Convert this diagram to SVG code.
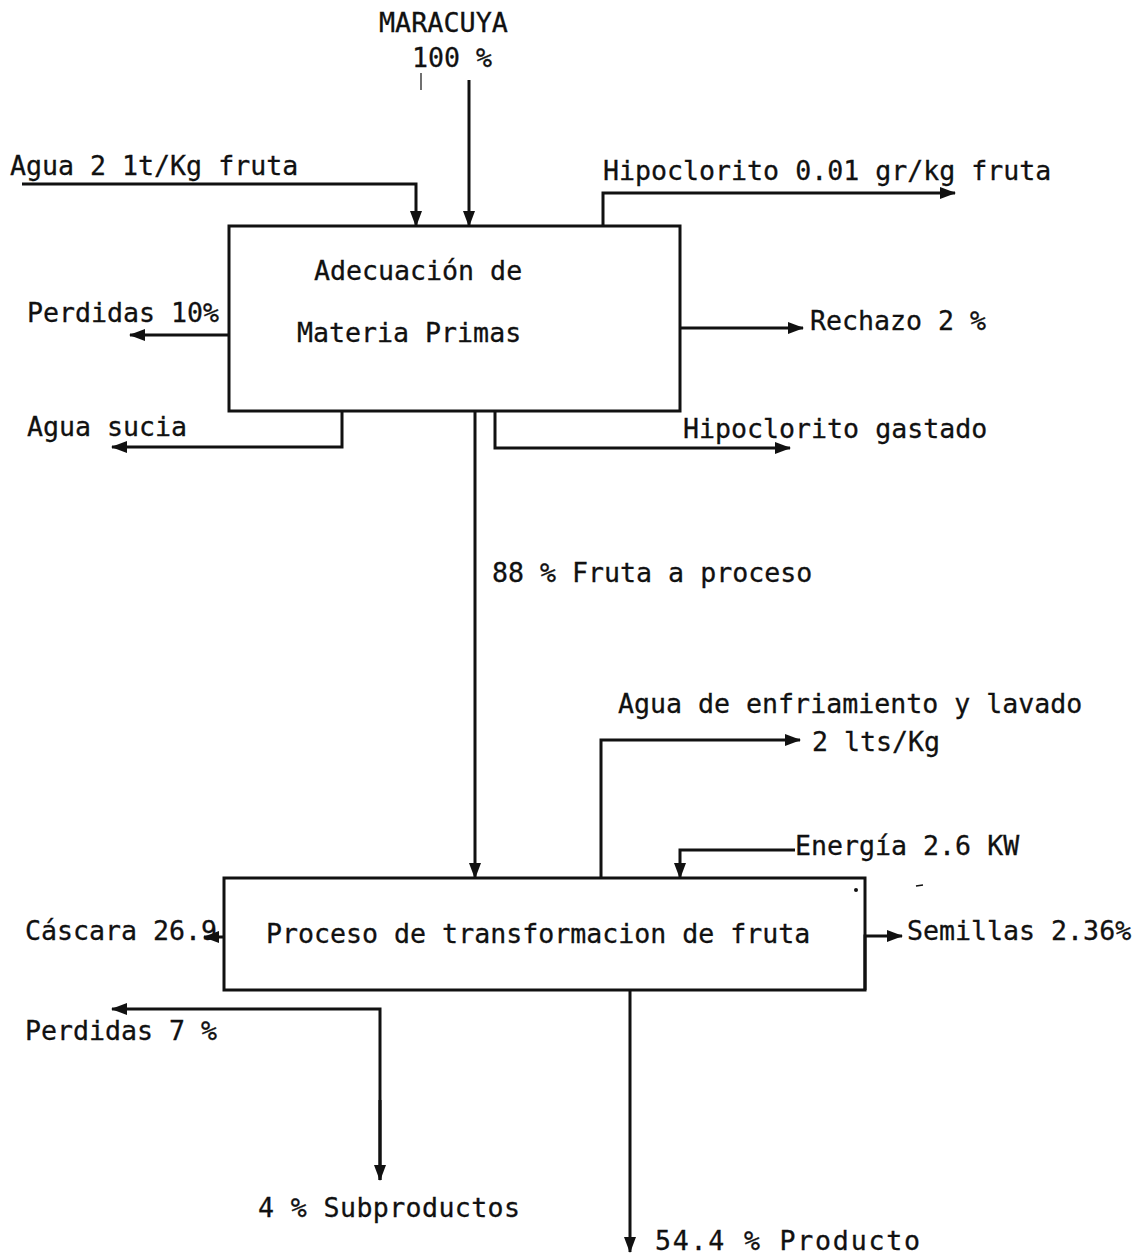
<svg xmlns="http://www.w3.org/2000/svg" width="1138" height="1256" viewBox="0 0 1138 1256">
  <style>
    text { font-family: "DejaVu Sans Mono", "Liberation Mono", monospace; font-size: 26.6px; fill: #111; stroke: #111; stroke-width: 0.3; }
    .box { fill: none; stroke: #111; stroke-width: 3; }
    .flow { fill: none; stroke: #111; stroke-width: 3; stroke-linejoin: miter; }
  </style>
  <defs>
    <marker id="arrow" viewBox="0 0 16 12" refX="15" refY="6" markerWidth="16" markerHeight="12" markerUnits="userSpaceOnUse" orient="auto">
      <path d="M0,0 L16,6 L0,12 Z" fill="#111"/>
    </marker>
  </defs>
  <rect width="1138" height="1256" fill="#fff"/>

  <!-- Stage 1: raw material preparation -->
  <g id="adecuacion">
    <rect class="box" x="229" y="226" width="451" height="185"/>
    <text x="314" y="280">Adecuación de</text>
    <text x="297" y="342">Materia Primas</text>
  </g>

  <!-- Stage 2: fruit processing -->
  <g id="proceso">
    <rect class="box" x="224" y="878" width="641" height="112"/>
    <text x="266" y="943">Proceso de transformacion de fruta</text>
  </g>

  <!-- Stream labels -->
  <g id="labels">
    <text x="379" y="32" textLength="129" lengthAdjust="spacingAndGlyphs">MARACUYA</text>
    <text x="412" y="67">100 %</text>
    <text x="10" y="175">Agua 2 1t/Kg fruta</text>
    <text x="603" y="180">Hipoclorito 0.01 gr/kg fruta</text>
    <text x="27" y="322">Perdidas 10%</text>
    <text x="810" y="330">Rechazo 2 %</text>
    <text x="27" y="436">Agua sucia</text>
    <text x="683" y="438">Hipoclorito gastado</text>
    <text x="492" y="582">88 % Fruta a proceso</text>
    <text x="618" y="713">Agua de enfriamiento y lavado</text>
    <text x="812" y="751">2 lts/Kg</text>
    <text x="795" y="855">Energía 2.6 KW</text>
    <text x="25" y="940">Cáscara 26.9</text>
    <text x="907" y="940">Semillas 2.36%</text>
    <text x="25" y="1040">Perdidas 7 %</text>
    <text x="258" y="1217" textLength="262">4 % Subproductos</text>
    <text x="655" y="1250" textLength="265">54.4 % Producto</text>
  </g>

  <!-- Material and energy flows -->
  <g id="connectors">
    <line class="flow" x1="469" y1="80" x2="469" y2="226" marker-end="url(#arrow)"/>
    <polyline class="flow" points="22,184 416,184 416,226" marker-end="url(#arrow)"/>
    <polyline class="flow" points="603,226 603,193 955,193" marker-end="url(#arrow)"/>
    <line class="flow" x1="229" y1="335" x2="130" y2="335" marker-end="url(#arrow)"/>
    <line class="flow" x1="680" y1="328" x2="803" y2="328" marker-end="url(#arrow)"/>
    <polyline class="flow" points="342,411 342,447 112,447" marker-end="url(#arrow)"/>
    <polyline class="flow" points="495,411 495,448 790,448" marker-end="url(#arrow)"/>
    <line class="flow" x1="475" y1="411" x2="475" y2="878" marker-end="url(#arrow)"/>
    <polyline class="flow" points="601,878 601,740 800,740" marker-end="url(#arrow)"/>
    <polyline class="flow" points="795,850 680,850 680,878" marker-end="url(#arrow)"/>
    <polyline class="flow" points="865,990 865,936 902,936" marker-end="url(#arrow)"/>
    <line class="flow" x1="224" y1="937" x2="204" y2="937" marker-end="url(#arrow)"/>
    <polyline class="flow" points="380,1180 380,1009 112,1009" marker-end="url(#arrow)"/>
    <line class="flow" x1="380" y1="1100" x2="380" y2="1180" marker-end="url(#arrow)"/>
    <line class="flow" x1="630" y1="990" x2="630" y2="1252" marker-end="url(#arrow)"/>
    <!-- small marks -->
    <line x1="421" y1="73" x2="421" y2="90" stroke="#111" stroke-width="1.2"/>
    <circle cx="856" cy="890" r="2" fill="#111"/>
    <line x1="916" y1="886" x2="923" y2="885" stroke="#111" stroke-width="1.5"/>
  </g>
</svg>
